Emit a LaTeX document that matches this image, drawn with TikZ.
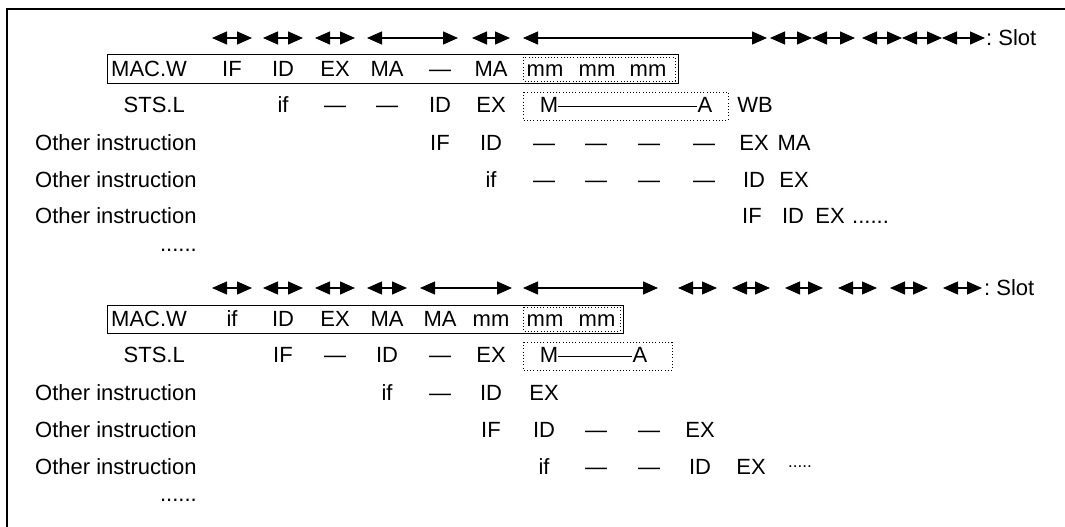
\documentclass[tikz,border=0pt]{standalone}
\usepackage{fontspec}
\setmainfont{Liberation Sans}
\usetikzlibrary{arrows.meta}
\begin{document}
\begin{tikzpicture}[x=1pt,y=-1pt,
  every node/.style={font=\fontsize{22}{26}\selectfont, inner sep=0pt, anchor=base},
  slotarrow/.style={line width=1.3pt, {Triangle[length=15pt,width=13pt]}-{Triangle[length=15pt,width=13pt]}},
  solidbox/.style={draw, line width=1pt},
  dotbox/.style={draw, line width=0.8pt, dash pattern=on 0.8pt off 2.4pt},
  frameline/.style={line width=2pt},
  mline/.style={line width=1.4pt},
  lbl/.style={anchor=base west},
  lblr/.style={anchor=base east},
]
\useasboundingbox (0,0) rectangle (1065,527);
\draw[frameline] (7,527) -- (7,9) -- (1065,9);

% ---------- top section ----------
\foreach \a/\b in {212/252,263/303,315/355,367/458,472/510,523/767,770/812,812/855,862/902,902/942,942/985}
  \draw[slotarrow] (\a,38) -- (\b,38);
\node[lbl] (tslot) at (986,45.5) {:\ Slot};

\draw[solidbox] (107,55) rectangle (678,83);
\draw[dotbox] (523,57) rectangle (675,81);
\node[lbl] (tmac) at (111,76) {MAC.W};
\foreach \x/\t [count=\i] in {232/IF,283/ID,335/EX,387/MA,440/—,491/MA,545/mm,597/mm,648/mm}
  \node (ta\i) at (\x,76) {\t};

\draw[dotbox] (523,92) rectangle (728,120);
\node[lblr] (tsts) at (185,112) {STS.L};
\foreach \x/\t [count=\i] in {283/if,335/—,387/—,440/ID,491/EX,755/WB}
  \node (tb\i) at (\x,112) {\t};
\node (tM) at (549,112) {M};
\node (tA) at (705,112) {A};
\draw[mline] ([yshift=5.8pt]tM.base east) -- ([yshift=5.8pt]tA.base west);

\node[lbl] (tc0) at (35,150.5) {Other instruction};
\foreach \x/\t [count=\i] in {440/IF,491/ID,544/—,596/—,649/—,704/—,754/EX,794/MA}
  \node (tc\i) at (\x,150.5) {\t};

\node[lbl] (td0) at (35,187.5) {Other instruction};
\foreach \x/\t [count=\i] in {491/if,544/—,596/—,649/—,704/—,754/ID,794/EX}
  \node (td\i) at (\x,187.5) {\t};

\node[lbl] (te0) at (35,223) {Other instruction};
\foreach \x/\t [count=\i] in {752/IF,793/ID,830/EX}
  \node (te\i) at (\x,223) {\t};
\node[lbl] (tedots) at (852,223) {......};

\node[lblr] (tfdots) at (197,251) {......};

% ---------- bottom section ----------
\foreach \a/\b in {212/252,263/303,315/355,367/407,420/512,523/658,678/717,732/770,785/823,838/877,890/928,943/982}
  \draw[slotarrow] (\a,288) -- (\b,288);
\node[lbl] (bslot) at (984,295.5) {:\ Slot};

\draw[solidbox] (107,305) rectangle (623,333);
\draw[dotbox] (523,307) rectangle (620,331);
\node[lbl] (bmac) at (111,326) {MAC.W};
\foreach \x/\t [count=\i] in {232/if,283/ID,335/EX,387/MA,440/MA,491/mm,545/mm,597/mm}
  \node (ba\i) at (\x,326) {\t};

\draw[dotbox] (523,342) rectangle (672,370);
\node[lblr] (bsts) at (185,362.5) {STS.L};
\foreach \x/\t [count=\i] in {283/IF,335/—,387/ID,440/—,491/EX}
  \node (bb\i) at (\x,362.5) {\t};
\node (bM) at (549,362.5) {M};
\node (bA) at (640,362.5) {A};
\draw[mline] ([yshift=5.8pt]bM.base east) -- ([yshift=5.8pt]bA.base west);

\node[lbl] (bc0) at (35,400.5) {Other instruction};
\foreach \x/\t [count=\i] in {387/if,440/—,491/ID,544/EX}
  \node (bc\i) at (\x,400.5) {\t};

\node[lbl] (bd0) at (35,437.5) {Other instruction};
\foreach \x/\t [count=\i] in {491/IF,544/ID,596/—,649/—,700/EX}
  \node (bd\i) at (\x,437.5) {\t};

\node[lbl] (be0) at (35,474.5) {Other instruction};
\foreach \x/\t [count=\i] in {544/if,596/—,649/—,700/ID,751/EX}
  \node (be\i) at (\x,474.5) {\t};
\node[lbl,font=\fontsize{17}{19}\selectfont] (bedots) at (788,467) {.....};

\node[lblr] (bfdots) at (197,501.5) {......};
\end{tikzpicture}
\end{document}
